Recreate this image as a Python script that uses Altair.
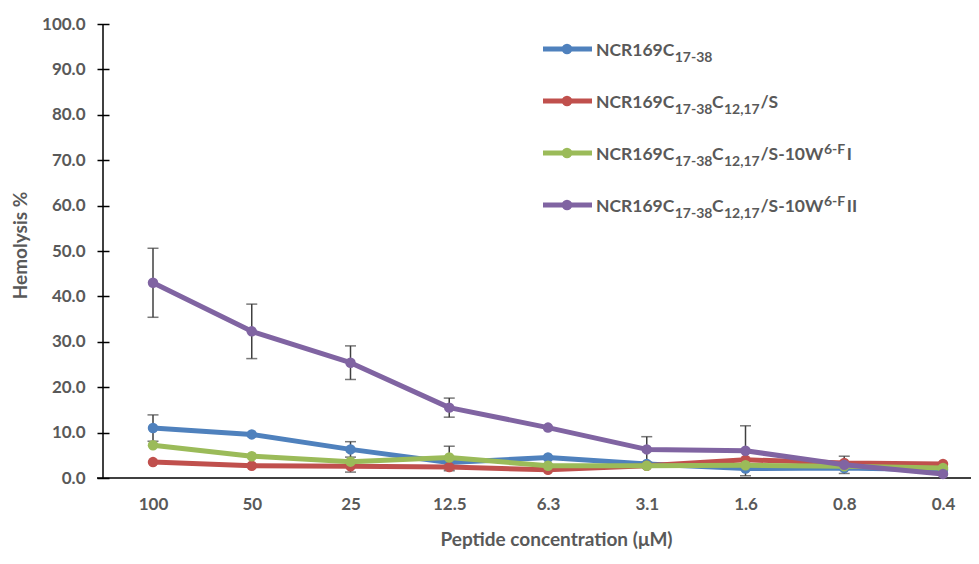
import altair as alt
import pandas as pd

# ---------------- data ----------------
concentrations = ["100", "50", "25", "12.5", "6.3", "3.1", "1.6", "0.8", "0.4"]
series_names = [
    "NCR169C17-38",
    "NCR169C17-38C12,17/S",
    "NCR169C17-38C12,17/S-10W6-FI",
    "NCR169C17-38C12,17/S-10W6-FII",
]
blue = [11.0, 9.6, 6.3, 3.4, 4.5, 3.1, 2.1, 2.2, 1.8]
blue_err = [2.9, 0, 1.7, 0, 0, 0, 0, 0, 0]
red = [3.5, 2.7, 2.6, 2.4, 1.8, 2.7, 4.0, 3.3, 3.1]
red_err = [0, 0, 1.3, 0.8, 0, 0, 0, 0, 0]
green = [7.2, 4.8, 3.6, 4.5, 2.7, 2.7, 2.8, 2.6, 2.2]
green_err = [0, 0, 0, 2.5, 0, 0, 0, 0, 0]
purple = [43.0, 32.3, 25.4, 15.5, 11.1, 6.3, 6.0, 2.9, 0.9]
purple_err = [7.6, 6.0, 3.7, 2.1, 0, 2.8, 5.5, 1.9, 0]
y_ticks = [0, 10, 20, 30, 40, 50, 60, 70, 80, 90, 100]
colors = ["#4F81BD", "#C0504D", "#9BBB59", "#8064A2"]

# legend label pieces: (text, kind) kind m=main, b=subscript, p=superscript
legend_segments = [
    [("NCR169C", "m"), ("17-38", "b")],
    [("NCR169C", "m"), ("17-38", "b"), ("C", "m"), ("12,17", "b"), ("/S", "m")],
    [("NCR169C", "m"), ("17-38", "b"), ("C", "m"), ("12,17", "b"), ("/S-10W", "m"), ("6-F", "p"), ("I", "m")],
    [("NCR169C", "m"), ("17-38", "b"), ("C", "m"), ("12,17", "b"), ("/S-10W", "m"), ("6-F", "p"), ("II", "m")],
]

rows = []
for name, vals, errs in zip(series_names, [blue, red, green, purple],
                            [blue_err, red_err, green_err, purple_err]):
    for c, v, e in zip(concentrations, vals, errs):
        rows.append(dict(conc=c, series=name, value=v, err=e, lo=v - e, hi=v + e))
df = pd.DataFrame(rows)

# ---------------- layout / style ----------------
W, H = 868, 454
LEFT, TOP = 95, 16
FONT = "Lato"
GRAY = "#595959"
ERR = "#404040"

xscale = alt.Scale(type="point", domain=concentrations, range=[50, 840], padding=0)
xaxis = alt.Axis(
    title="Peptide concentration (μM)", labelAngle=0, domain=False, ticks=False,
    tickSize=0, labelPadding=18, labelFont=FONT, labelFontSize=17,
    labelFontWeight="bold", labelColor=GRAY, titleFont=FONT, titleFontSize=19,
    titleFontWeight="bold", titleColor=GRAY, titleX=453, titleY=61,
    titleBaseline="middle", titleAlign="center",
)
yscale = alt.Scale(domain=[0, 100], nice=False)
yaxis = alt.Axis(
    values=y_ticks, format=".1f", offset=-6, tickSize=12, tickWidth=1.5,
    tickColor="black", domain=False, grid=False, labelPadding=12,
    labelFont=FONT, labelFontSize=17, labelFontWeight="bold", labelColor=GRAY,
    title="Hemolysis %", titleFont=FONT, titleFontSize=19, titleFontWeight="bold",
    titleColor=GRAY, titleX=-89, titleY=221, titleAngle=-90,
    titleBaseline="middle", titleAlign="center",
)
X = alt.X("conc:N", sort=concentrations, scale=xscale, axis=xaxis)
color = alt.Color("series:N", scale=alt.Scale(domain=series_names, range=colors), legend=None)

base = alt.Chart(df)
layers = []

# axis lines
one = pd.DataFrame({"a": [0]})
layers.append(alt.Chart(one).mark_rule(color="black", strokeWidth=1.5).encode(
    x=alt.value(0), y=alt.value(0), y2=alt.value(H)))
layers.append(alt.Chart(one).mark_rule(color="black", strokeWidth=1.5).encode(
    x=alt.value(-6), x2=alt.value(W), y=alt.value(H)))

# error bars
eb = base.transform_filter("datum.err > 0")
layers.append(eb.mark_rule(color=ERR, strokeWidth=1.5).encode(
    x=X, y=alt.Y("lo:Q", scale=yscale, axis=yaxis), y2="hi:Q"))
layers.append(eb.mark_tick(color=ERR, thickness=1.5, size=11).encode(
    x=X, y=alt.Y("hi:Q", scale=yscale, axis=yaxis)))
layers.append(eb.mark_tick(color=ERR, thickness=1.5, size=11).encode(
    x=X, y=alt.Y("lo:Q", scale=yscale, axis=yaxis)))

# series lines + markers
for name in series_names:
    s = base.transform_filter(alt.datum.series == name)
    layers.append(s.mark_line(strokeWidth=5, strokeJoin="round", strokeCap="round").encode(
        x=X, y=alt.Y("value:Q", scale=yscale, axis=yaxis), color=color))
    layers.append(s.mark_point(filled=True, size=110, opacity=1).encode(
        x=X, y=alt.Y("value:Q", scale=yscale, axis=yaxis), color=color))

# custom legend (rich text with sub/superscripts), pieces laid out one after another
row_centers = [49, 101, 153, 205]  # page y
size_of = {"m": 17.5, "b": 14, "p": 14}
shift_of = {"m": 7, "b": 13, "p": 1}
em_width = {"NCR169C": 4.47, "17-38": 2.62, "C": 0.66, "12,17": 2.57,
            "/S": 0.95, "/S-10W": 3.6, "6-F": 1.6, "I": 0.3, "II": 0.6}
for i, (name, col) in enumerate(zip(series_names, colors)):
    cy = row_centers[i] - 8 - TOP
    layers.append(alt.Chart(one).mark_rule(color=col, strokeWidth=5).encode(
        x=alt.value(543 - 8 - LEFT), x2=alt.value(592 - 8 - LEFT), y=alt.value(cy)))
    layers.append(alt.Chart(one).mark_point(filled=True, size=110, opacity=1, color=col).encode(
        x=alt.value(567 - 8 - LEFT), y=alt.value(cy)))
    sx = 596
    for txt, kind in legend_segments[i]:
        layers.append(alt.Chart(pd.DataFrame({"label": [txt]})).mark_text(
            align="left", baseline="alphabetic", font=FONT, fontWeight="bold",
            fontSize=size_of[kind], color=GRAY).encode(
            text="label:N", x=alt.value(sx - 8 - LEFT), y=alt.value(cy + shift_of[kind])))
        sx += em_width[txt] * size_of[kind] + 0.5

chart = alt.layer(*layers).properties(
    width=W, height=H,
    autosize=alt.AutoSizeParams(type="none"),
    padding={"left": LEFT, "top": TOP, "right": 0, "bottom": 74},
).configure_view(stroke=None)

chart.save("out.html", embed_options={"renderer": "svg", "actions": False})
